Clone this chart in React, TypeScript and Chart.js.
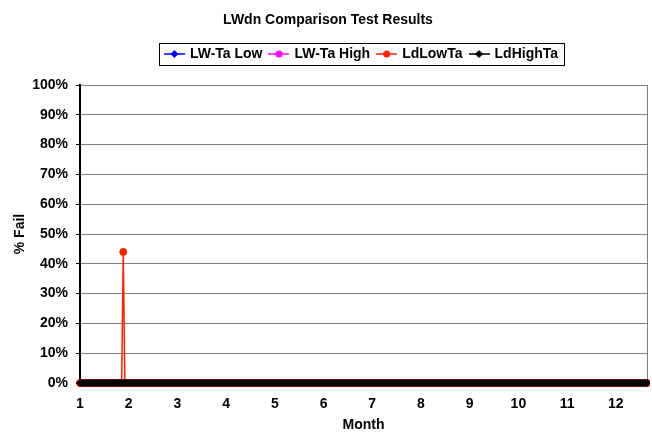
import React, { useEffect, useRef } from "react";
import { Chart, registerables } from "chart.js";

Chart.register(...registerables);

// ---------- data ----------
const TITLE = "LWdn Comparison Test Results";
const SERIES_NAMES = ["LW-Ta Low", "LW-Ta High", "LdLowTa", "LdHighTa"];
const SERIES_COLORS = ["#0000ff", "#ff00ff", "#ff2000", "#000000"];
const SERIES_MARKERS = ["rectRot", "circle", "circle", "rectRot"];
const X_MONTH_LABELS = [1, 2, 3, 4, 5, 6, 7, 8, 9, 10, 11, 12];
const Y_TICKS = [0, 10, 20, 30, 40, 50, 60, 70, 80, 90, 100];
const DAYS_PER_MONTH = 30.4;

// daily samples, % fail (all readings at 0% except the LdLowTa spike)
const ZERO_SERIES = [
  0,0,0,0,0,0,0,0,0,0,0,0,0,0,0,0,0,0,0,0,
  0,0,0,0,0,0,0,0,0,0,0,0,0,0,0,0,0,0,0,0,
  0,0,0,0,0,0,0,0,0,0,0,0,0,0,0,0,0,0,0,0,
  0,0,0,0,0,0,0,0,0,0,0,0,0,0,0,0,0,0,0,0,
  0,0,0,0,0,0,0,0,0,0,0,0,0,0,0,0,0,0,0,0,
  0,0,0,0,0,0,0,0,0,0,0,0,0,0,0,0,0,0,0,0,
  0,0,0,0,0,0,0,0,0,0,0,0,0,0,0,0,0,0,0,0,
  0,0,0,0,0,0,0,0,0,0,0,0,0,0,0,0,0,0,0,0,
  0,0,0,0,0,0,0,0,0,0,0,0,0,0,0,0,0,0,0,0,
  0,0,0,0,0,0,0,0,0,0,0,0,0,0,0,0,0,0,0,0,
  0,0,0,0,0,0,0,0,0,0,0,0,0,0,0,0,0,0,0,0,
  0,0,0,0,0,0,0,0,0,0,0,0,0,0,0,0,0,0,0,0,
  0,0,0,0,0,0,0,0,0,0,0,0,0,0,0,0,0,0,0,0,
  0,0,0,0,0,0,0,0,0,0,0,0,0,0,0,0,0,0,0,0,
  0,0,0,0,0,0,0,0,0,0,0,0,0,0,0,0,0,0,0,0,
  0,0,0,0,0,0,0,0,0,0,0,0,0,0,0,0,0,0,0,0,
  0,0,0,0,0,0,0,0,0,0,0,0,0,0,0,0,0,0,0,0,
  0,0,0,0,0,0,0,0,0,0,0,0,0,0,0,0,0,0,0,0,
];
const LW_TA_LOW = ZERO_SERIES;
const LW_TA_HIGH = ZERO_SERIES;
const LD_HIGH_TA = ZERO_SERIES;
const LD_LOW_TA = [
  0,0,0,0,0,0,0,0,0,0,0,0,0,0,0,0,0,0,0,0,
  0,0,0,0,0,0,0,44,0,0,0,0,0,0,0,0,0,0,0,0,
  0,0,0,0,0,0,0,0,0,0,0,0,0,0,0,0,0,0,0,0,
  0,0,0,0,0,0,0,0,0,0,0,0,0,0,0,0,0,0,0,0,
  0,0,0,0,0,0,0,0,0,0,0,0,0,0,0,0,0,0,0,0,
  0,0,0,0,0,0,0,0,0,0,0,0,0,0,0,0,0,0,0,0,
  0,0,0,0,0,0,0,0,0,0,0,0,0,0,0,0,0,0,0,0,
  0,0,0,0,0,0,0,0,0,0,0,0,0,0,0,0,0,0,0,0,
  0,0,0,0,0,0,0,0,0,0,0,0,0,0,0,0,0,0,0,0,
  0,0,0,0,0,0,0,0,0,0,0,0,0,0,0,0,0,0,0,0,
  0,0,0,0,0,0,0,0,0,0,0,0,0,0,0,0,0,0,0,0,
  0,0,0,0,0,0,0,0,0,0,0,0,0,0,0,0,0,0,0,0,
  0,0,0,0,0,0,0,0,0,0,0,0,0,0,0,0,0,0,0,0,
  0,0,0,0,0,0,0,0,0,0,0,0,0,0,0,0,0,0,0,0,
  0,0,0,0,0,0,0,0,0,0,0,0,0,0,0,0,0,0,0,0,
  0,0,0,0,0,0,0,0,0,0,0,0,0,0,0,0,0,0,0,0,
  0,0,0,0,0,0,0,0,0,0,0,0,0,0,0,0,0,0,0,0,
  0,0,0,0,0,0,0,0,0,0,0,0,0,0,0,0,0,0,0,0,
];
const SERIES_VALUES = [LW_TA_LOW, LW_TA_HIGH, LD_LOW_TA, LD_HIGH_TA];
// x position (in months) of each daily sample
const MONTH_POS = LD_LOW_TA.map((_, d) => 1 + d / DAYS_PER_MONTH);

// ---------- styling ----------
const FONT_FAMILY = "'Liberation Sans', Arial, Helvetica, sans-serif";
const boldFont = (size: number) => ({ family: FONT_FAMILY, size, weight: "bold" as const });
const X_MAX = 12.64;
const LEGEND_CENTER_X = 362;
const LEGEND_SHIFT_Y = -14;

function makeIcon(color: string, marker: string): HTMLCanvasElement {
  const c = document.createElement("canvas");
  c.width = 21;
  c.height = 10;
  const ctx = c.getContext("2d")!;
  ctx.strokeStyle = color;
  ctx.fillStyle = color;
  ctx.lineWidth = 1.5;
  ctx.beginPath();
  ctx.moveTo(0, 5);
  ctx.lineTo(21, 5);
  ctx.stroke();
  ctx.beginPath();
  if (marker === "rectRot") {
    ctx.moveTo(10.5, 1);
    ctx.lineTo(14.5, 5);
    ctx.lineTo(10.5, 9);
    ctx.lineTo(6.5, 5);
    ctx.closePath();
  } else {
    ctx.arc(10.5, 5, 3.5, 0, Math.PI * 2);
  }
  ctx.fill();
  return c;
}

const decorPlugin = {
  id: "decor",
  afterUpdate(chart: any) {
    const lg = chart.legend;
    if (!lg) return;
    const dx = LEGEND_CENTER_X - (lg.left + lg.right) / 2;
    const dy = LEGEND_SHIFT_Y;
    lg.left += dx;
    lg.right += dx;
    lg.top += dy;
    lg.bottom += dy;
    (lg.legendHitBoxes || []).forEach((h: any) => {
      h.left += dx;
      h.top += dy;
    });
  },
  beforeDatasetsDraw(chart: any) {
    const { ctx, chartArea } = chart;
    ctx.save();
    ctx.strokeStyle = "#808080";
    ctx.lineWidth = 1;
    ctx.beginPath();
    ctx.moveTo(Math.round(chartArea.right) + 0.5, chartArea.top);
    ctx.lineTo(Math.round(chartArea.right) + 0.5, chartArea.bottom);
    ctx.stroke();
    ctx.restore();
  },
  afterDraw(chart: any) {
    const lg = chart.legend;
    if (!lg || !lg.legendHitBoxes || !lg.legendHitBoxes.length) return;
    const boxes = lg.legendHitBoxes;
    const first = boxes[0];
    const last = boxes[boxes.length - 1];
    const left = Math.round(first.left - 6.5) + 0.5;
    const right = Math.round(last.left + last.width + 6) + 0.5;
    const cy = first.top + first.height / 2;
    const top = Math.round(cy - 11) + 0.5;
    const bottom = Math.round(cy + 11) + 0.5;
    const ctx = chart.ctx;
    ctx.save();
    ctx.strokeStyle = "#000";
    ctx.lineWidth = 1;
    ctx.strokeRect(left, top, right - left, bottom - top);
    ctx.restore();
  },
};

export default function App() {
  const canvasRef = useRef<HTMLCanvasElement | null>(null);

  useEffect(() => {
    if (!canvasRef.current) return;
    const icons = SERIES_COLORS.map((c, i) => makeIcon(c, SERIES_MARKERS[i]));
    const datasets = SERIES_NAMES.map((name, i) => ({
      label: name,
      data: SERIES_VALUES[i],
      borderColor: SERIES_COLORS[i],
      backgroundColor: SERIES_COLORS[i],
      borderWidth: 1.5,
      pointStyle: SERIES_MARKERS[i],
      pointRadius: i === 1 ? 3 : 3.5,
      pointBorderWidth: 1,
      pointBorderColor: SERIES_COLORS[i],
      pointBackgroundColor: SERIES_COLORS[i],
      tension: 0,
      fill: false,
      order: SERIES_NAMES.length - 1 - i,
      clip: { left: 4, right: 3, top: 6, bottom: 6 },
    }));

    const chart = new Chart(canvasRef.current, {
      type: "line",
      data: { labels: MONTH_POS, datasets: datasets as any },
      plugins: [decorPlugin],
      options: {
        responsive: false,
        maintainAspectRatio: false,
        animation: false,
        devicePixelRatio: 1,
        layout: { padding: { left: 8, right: 4, top: 0, bottom: 0 } },
        plugins: {
          title: {
            display: true,
            text: TITLE,
            color: "#000",
            font: boldFont(14),
            padding: { top: 12, bottom: 24.2 },
          },
          legend: {
            display: true,
            position: "top",
            labels: {
              usePointStyle: true,
              pointStyleWidth: 17,
              padding: 8,
              color: "#000",
              font: boldFont(14),
              sort: (a: any, b: any) => a.datasetIndex - b.datasetIndex,
              generateLabels: (ch: any) => {
                const items = (Chart.defaults.plugins.legend.labels as any).generateLabels(ch);
                items.forEach((it: any) => {
                  it.pointStyle = icons[it.datasetIndex];
                });
                return items;
              },
            },
          },
          tooltip: { enabled: false },
        },
        scales: {
          x: {
            type: "linear",
            min: 1,
            max: X_MAX,
            afterFit: (s: any) => {
              s.height = 49;
            },
            afterBuildTicks: (s: any) => {
              const ticks = [];
              for (let k = 0; 1 + k / 3 <= X_MAX + 1e-9; k++) ticks.push({ value: 1 + k / 3 });
              s.ticks = ticks;
            },
            ticks: {
              autoSkip: false,
              maxRotation: 0,
              minRotation: 0,
              padding: 9,
              color: "#000",
              font: boldFont(14),
              callback: (v: any) => {
                const m = X_MONTH_LABELS.find((n) => Math.abs(n - Number(v)) < 1e-6);
                return m === undefined ? "" : String(m);
              },
            },
            grid: {
              drawOnChartArea: false,
              drawTicks: true,
              tickLength: 4,
              color: "#404040",
              tickColor: "#404040",
            },
            border: { color: "#000", width: 1 },
            title: {
              display: true,
              text: "Month",
              color: "#000",
              font: boldFont(14),
              padding: { top: 0, bottom: -2 },
            },
          },
          y: {
            type: "linear",
            min: 0,
            max: 100,
            afterFit: (s: any) => {
              s.width = 72;
            },
            afterBuildTicks: (s: any) => {
              s.ticks = Y_TICKS.map((v) => ({ value: v }));
            },
            ticks: {
              padding: 8,
              color: "#000",
              font: boldFont(14),
              callback: (v: any) => `${v}%`,
            },
            grid: {
              color: "#808080",
              tickColor: "#000",
              tickLength: 4,
              lineWidth: 1,
            },
            border: { color: "#000", width: 2 },
            title: {
              display: true,
              text: "% Fail",
              color: "#000",
              font: boldFont(14),
              padding: { top: 4, bottom: 0 },
            },
          },
        },
      },
    });
    return () => chart.destroy();
  }, []);

  return (
    <div style={{ position: "absolute", left: 0, top: 0, width: 652, height: 432, background: "#fff" }}>
      <canvas ref={canvasRef} width={652} height={432} style={{ display: "block" }} />
    </div>
  );
}
